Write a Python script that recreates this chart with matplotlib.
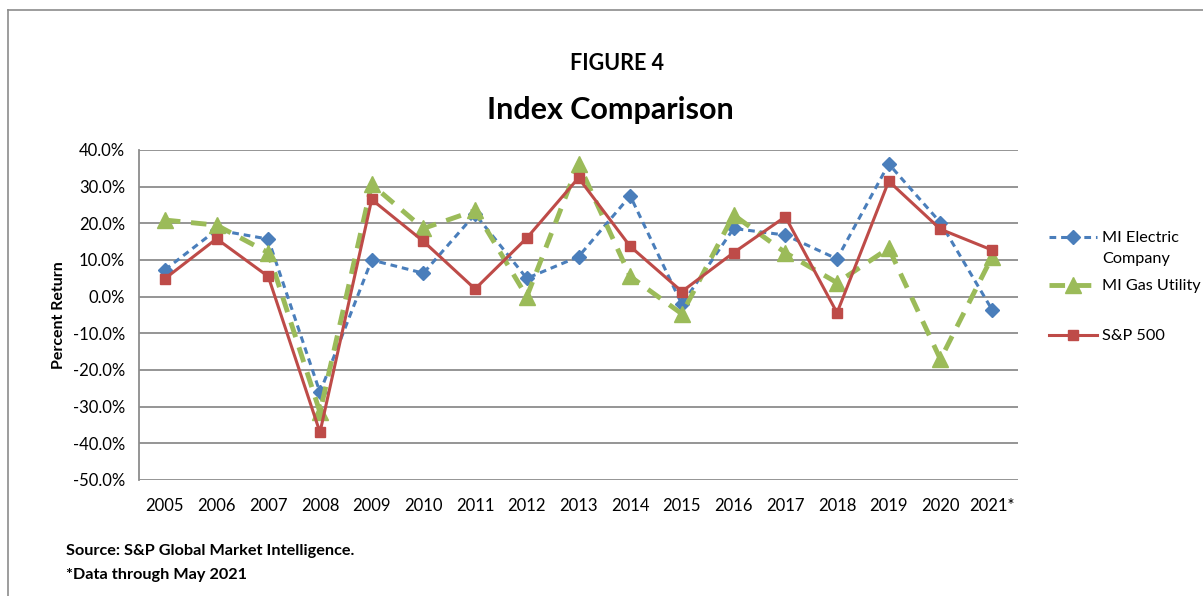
import matplotlib
matplotlib.use("Agg")
import matplotlib.pyplot as plt
from matplotlib.lines import Line2D
from matplotlib.ticker import FuncFormatter

years = ["2005", "2006", "2007", "2008", "2009", "2010", "2011", "2012", "2013",
         "2014", "2015", "2016", "2017", "2018", "2019", "2020", "2021*"]
mi_electric = [7.3, 18.2, 15.7, -26.1, 10.0, 6.4, 22.5, 5.0, 10.9,
               27.5, -2.1, 18.6, 16.8, 10.3, 36.2, 20.2, -3.6]
mi_gas = [20.9, 19.5, 12.0, -31.5, 30.6, 18.6, 23.5, 0.0, 36.3,
          5.5, -4.7, 22.3, 12.0, 3.8, 13.2, -17.1, 10.9]
sp500 = [4.9, 15.8, 5.5, -37.0, 26.5, 15.1, 2.1, 16.0, 32.4,
         13.7, 1.4, 12.0, 21.8, -4.4, 31.5, 18.4, 12.7]

plt.rcParams['font.family'] = ['Lato', 'DejaVu Sans']

W, H = 1203, 596
fig = plt.figure(figsize=(W / 100, H / 100), dpi=100)
fig.patch.set_facecolor('white')

def fx(px):
    return px / W

def fy(py):
    return 1 - py / H

left, right, top, bottom = 139, 1018, 150, 480
ax = fig.add_axes([fx(left), fy(bottom), fx(right - left), (bottom - top) / H])

x = list(range(len(years)))
blue = '#4A7EBB'
green = '#9BBB59'
red = '#BE4B48'

ax.plot(x, mi_electric, color=blue, lw=2.2, ls=(0, (2.2, 1.6)), marker='D',
        ms=7.5, mec=blue, mfc=blue, zorder=3, label='MI Electric\nCompany')
ax.plot(x, mi_gas, color=green, lw=3.5, ls=(0, (3.2, 2.2)), marker='^',
        ms=11, mec=green, mfc=green, zorder=4, label='MI Gas Utility')
ax.plot(x, sp500, color=red, lw=2.2, ls='-', marker='s',
        ms=7, mec=red, mfc=red, zorder=5, label='S&P 500')

ax.set_xlim(-0.5, len(years) - 0.5)
ax.set_ylim(-50, 40)
ax.set_yticks(range(-50, 41, 10))
ax.yaxis.set_major_formatter(FuncFormatter(lambda v, p: f"{v:.1f}%"))
ax.set_xticks(x)
ax.set_xticklabels(years)
ax.grid(axis='y', color='#8C8C8C', lw=1.3)
ax.set_axisbelow(True)
for s in ['top', 'right', 'bottom']:
    ax.spines[s].set_visible(False)
ax.spines['left'].set_color('#8C8C8C')
ax.spines['left'].set_linewidth(1.3)
ax.tick_params(axis='both', length=0, labelsize=12, colors='black')
ax.tick_params(axis='y', pad=10)
ax.tick_params(axis='x', pad=13)
ax.set_ylabel('Percent Return', fontsize=11.5, fontweight='bold', labelpad=5)

fig.text(fx(617), fy(63), 'FIGURE 4', ha='center', va='center',
         fontsize=15.5, fontweight='bold')
fig.text(fx(610), fy(110), 'Index Comparison', ha='center', va='center',
         fontsize=22, fontweight='bold')
fig.text(fx(66), fy(551), 'Source: S&P Global Market Intelligence.', ha='left',
         va='center', fontsize=11.7, fontweight='bold')
fig.text(fx(66), fy(575), '*Data through May 2021', ha='left', va='center',
         fontsize=11.7, fontweight='bold')

# legend drawn manually
leg = [(237, blue, 2.2, (0, (2.2, 1.6)), 'D', 7.5, 'MI Electric\nCompany'),
       (285, green, 3.5, (0, (3.2, 2.2)), '^', 11, 'MI Gas Utility'),
       (335, red, 2.2, '-', 's', 7, 'S&P 500')]
for yy, c, lw, ls, m, ms, lab in leg:
    fig.add_artist(Line2D([fx(1049), fx(1097)], [fy(yy), fy(yy)], color=c, lw=lw, ls=ls,
                          transform=fig.transFigure))
    fig.add_artist(Line2D([fx(1073)], [fy(yy)], color=c, marker=m, ms=ms, mec=c, mfc=c,
                          transform=fig.transFigure))
    fig.text(fx(1102), fy(yy - 6), lab, ha='left', va='top', fontsize=11.7,
             linespacing=1.65)

# border
fig.add_artist(Line2D([fx(8), fx(8)], [fy(10), 0], color='#8C8C8C', lw=1.2,
                      transform=fig.transFigure))
fig.add_artist(Line2D([fx(8), 1], [fy(10), fy(10)], color='#8C8C8C', lw=1.2,
                      transform=fig.transFigure))

fig.savefig('out.png', dpi=100)
